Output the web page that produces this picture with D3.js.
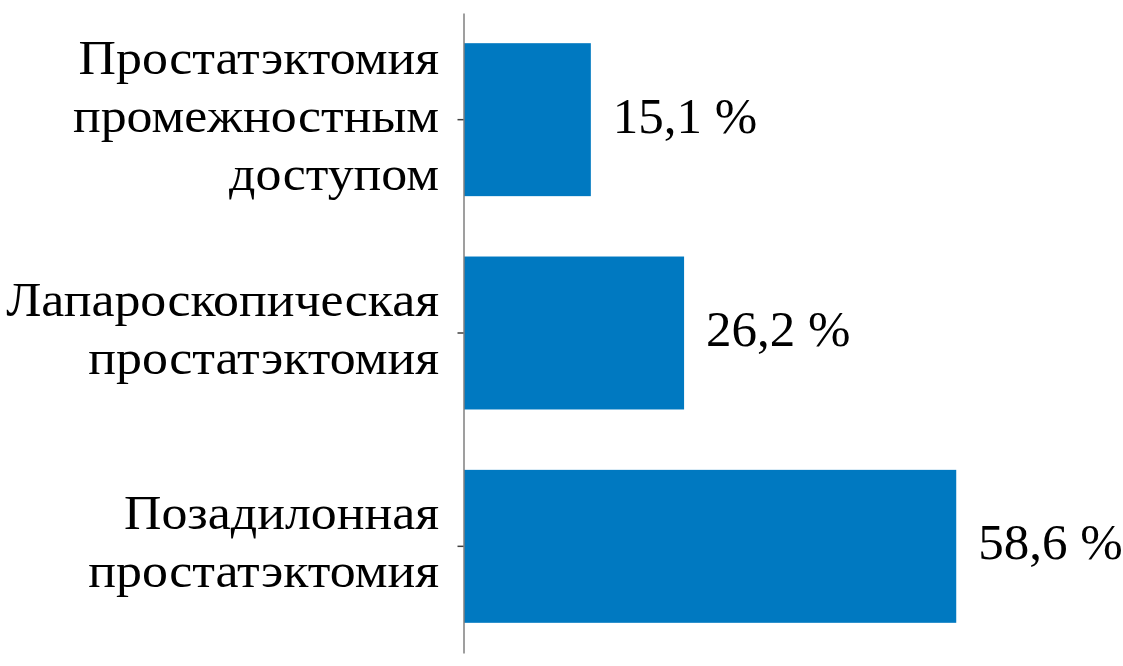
<!doctype html>
<html>
<head>
  <meta charset="utf-8">
  <script src="https://d3js.org/d3.v7.min.js"></script>
  <style>
  body {
    margin: 0;
    background: #fff;
  }

  text {
    font-family: "Liberation Serif", "Times New Roman", serif;
    fill: #000;
  }

  .axis path {
    stroke: #7f7f7f;
    stroke-width: 1.5;
  }

  .axis line {
    stroke: #404040;
    stroke-width: 1.5;
  }

  .bar {
    fill: #0079c1;
  }
  </style>
</head>
<body>
  <script>
    // data, top to bottom
    var categories = [
      ["Простатэктомия", "промежностным", "доступом"],
      ["Лапароскопическая", "простатэктомия"],
      ["Позадилонная", "простатэктомия"]
    ];
    var values = [15.1, 26.2, 58.6];
    var valueLabels = ["15,1 %", "26,2 %", "58,6 %"];

    var width = 1123,
        height = 666,
        axisX = 464;

    var data = values.map(function(v, i){
      return {key: i, value: v, label: valueLabels[i], lines: categories[i]};
    });

    var y = d3.scaleBand()
        .domain(data.map(function(d){ return d.key; }))
        .range([13, 653])
        .paddingInner(0.283)
        .paddingOuter(0.1415);

    var x = d3.scaleLinear()
        .domain([0, 70])
        .range([axisX, axisX + 588]);

    var svg = d3.select("body").append("svg")
        .attr("width", width)
        .attr("height", height);

    // bars
    svg.selectAll(".bar")
        .data(data)
      .enter().append("rect")
        .attr("class", "bar")
        .attr("x", x(0))
        .attr("y", function(d){ return y(d.key); })
        .attr("width", function(d){ return x(d.value) - x(0); })
        .attr("height", y.bandwidth());

    // vertical axis with small ticks at band centres
    svg.append("g")
        .attr("class", "axis")
        .attr("transform", "translate(" + (axisX - 0.5) + ",0)")
        .call(d3.axisLeft(y).tickSize(6).tickSizeOuter(0).tickFormat(""));

    // category labels, right aligned, multi-line (the original text is a bit wide)
    var lineH = 58;
    svg.selectAll(".cat")
        .data(data)
      .enter().append("text")
        .attr("class", "cat")
        .attr("text-anchor", "end")
        .attr("transform", "translate(439,0) scale(1.08,1)")
        .style("font-size", "48px")
        .each(function(d){
          var t = d3.select(this),
              c = y(d.key) + y.bandwidth() / 2,
              first = c - (d.lines.length - 1) * lineH / 2 + 12;
          d.lines.forEach(function(s, i){
            t.append("tspan")
                .attr("x", 0)
                .attr("y", first + i * lineH)
                .text(s);
          });
        });

    // value labels
    svg.selectAll(".val")
        .data(data)
      .enter().append("text")
        .attr("class", "val")
        .attr("x", function(d){ return x(d.value) + 22; })
        .attr("y", function(d){ return y(d.key) + y.bandwidth() / 2 + 13; })
        .style("font-size", "51px")
        .text(function(d){ return d.label; });
  </script>
</body>
</html>
